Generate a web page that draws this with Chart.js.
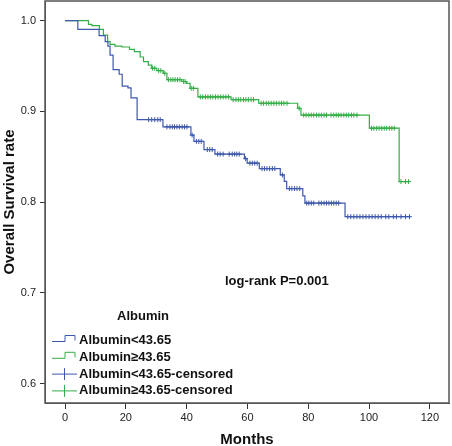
<!DOCTYPE html>
<html>
<head>
<meta charset="utf-8">
<script src="https://cdn.jsdelivr.net/npm/chart.js@4"></script>
<style>
html, body { margin: 0; padding: 0; background: #fff; }
</style>
</head>
<body>
<canvas id="km" width="452" height="446"></canvas>
<script>
// Kaplan-Meier steps (months, survival after the drop)
var lowTimes = [0, 4.2, 11.2, 13.2, 14.1, 14.8, 15.8, 17.8, 18.8, 20.7, 21.7, 23.7, 32.2, 41.4, 42.4, 45.7, 49.3, 59.0, 59.9, 63.9, 70.8, 72.1, 72.9, 78.2, 78.9, 92.1, 113.3];
var lowSurv  = [1.0, 0.9905, 0.9835, 0.977, 0.972, 0.962, 0.946, 0.941, 0.928, 0.926, 0.915, 0.891, 0.883, 0.874, 0.867, 0.858, 0.853, 0.848, 0.843, 0.837, 0.830, 0.823, 0.815, 0.807, 0.799, 0.784, 0.784];

var highTimes = [0, 7.7, 8.8, 11.3, 12.6, 14.0, 14.8, 16.4, 18.7, 21.2, 22.8, 24.7, 25.8, 27.4, 28.5, 30.2, 32.3, 33.5, 38.4, 40.0, 41.1, 43.7, 54.6, 63.7, 76.5, 77.6, 100.1, 109.9, 113.3];
var highSurv  = [1.0, 0.996, 0.9945, 0.9905, 0.984, 0.977, 0.974, 0.972, 0.971, 0.9685, 0.966, 0.960, 0.955, 0.951, 0.9476, 0.945, 0.942, 0.935, 0.933, 0.931, 0.9255, 0.916, 0.913, 0.909, 0.9035, 0.896, 0.8815, 0.8227, 0.8227];

// censored times (months)
var lowCens = [27.5, 28.5, 29.5, 30.5, 31.3, 33.5, 34.5, 35.3, 36, 36.8, 37.6, 38.5, 39.3, 40.1, 41.8, 43.2, 44, 44.8,
  46.8, 47.6, 48.4, 50.2, 51, 52, 54, 55, 55.8, 56.5, 57.3, 59.4, 60.8, 61.6, 62.4, 63.2, 64.8, 65.6, 66.4, 67.3, 68.2, 69,
  71.5, 73.8, 74.6, 75.5, 76.3, 77.2, 79.5, 80.2, 81, 81.8, 83.5, 84.3, 85.2, 86, 86.8, 87.6, 88.4, 89.2, 90,
  93, 94, 95, 96, 97, 98, 99, 100, 101, 102, 103, 104, 105.5, 106.5, 108, 109, 110.5, 112, 113.3];
var highCens = [28.8, 29.5, 30.8, 31.5, 32.8, 34, 34.8, 35.5, 36.2, 37, 37.8, 39, 39.5, 41.5, 42.2,
  44.5, 45.3, 46.2, 47, 47.8, 48.6, 49.5, 50.3, 51.2, 52, 52.9, 53.8, 55.3, 56.2, 57, 57.8, 58.7, 59.5, 60.3, 61.2, 62,
  64.5, 65.3, 66.2, 67, 67.8, 68.7, 69.5, 70.4, 71.2, 72, 73, 77, 78.5, 79.3, 80.2, 81, 81.8, 82.7, 83.5, 84.3, 85.2, 86,
  87.5, 88.4, 89.2, 90, 90.8, 91.7, 92.5, 93.3, 94.2, 95, 96, 100.8, 101.6, 102.5, 103.3, 104.2, 105, 105.8, 106.7, 107.5, 108.3,
  110.5, 112, 113];

var xTicks = [0, 20, 40, 60, 80, 100, 120];
var yTicks = [0.6, 0.7, 0.8, 0.9, 1.0];

var blue = "#3E58AC";
var green = "#34AE47";
var FONT = "'Liberation Sans', Arial, sans-serif";

function steps(times, surv) {
  return times.map(function (t, i) { return { x: t, y: surv[i] }; });
}
// value of the step curve at a censored time
function censPoints(cens, times, surv) {
  return cens.map(function (t) {
    var s = surv[0];
    for (var i = 0; i < times.length; i++) { if (times[i] <= t) s = surv[i]; }
    return { x: t, y: s };
  });
}
function noPad(s) {
  s.paddingTop = 0; s.paddingBottom = 0; s.paddingLeft = 0; s.paddingRight = 0;
}

var frame = {
  id: 'frame',
  afterDraw: function (chart) {
    var ctx = chart.ctx, a = chart.chartArea;
    ctx.save();
    ctx.strokeStyle = "#555";
    ctx.lineWidth = 1.5;
    ctx.strokeRect(a.left, a.top, a.right - a.left, a.bottom - a.top);

    ctx.fillStyle = "#111";
    ctx.font = "bold 15px " + FONT;
    ctx.textAlign = "center";
    ctx.textBaseline = "middle";
    ctx.fillText("Months", (a.left + a.right) / 2, 440);
    ctx.save();
    ctx.translate(10, (a.top + a.bottom) / 2);
    ctx.rotate(-Math.PI / 2);
    ctx.fillText("Overall Survival rate", 0, 0);
    ctx.restore();

    ctx.font = "bold 13px " + FONT;
    ctx.textAlign = "left";
    ctx.fillText("log-rank P=0.001", 225, 281);

    // legend
    ctx.textAlign = "center";
    ctx.fillText("Albumin", 143, 316);
    var labels = ["Albumin<43.65", "Albumin\u226543.65", "Albumin<43.65-censored", "Albumin\u226543.65-censored"];
    var cols = [blue, green, blue, green];
    ctx.textAlign = "left";
    for (var i = 0; i < 4; i++) {
      var y = 340.5 + i * 16.8;
      ctx.strokeStyle = cols[i];
      ctx.lineWidth = 1;
      ctx.beginPath();
      if (i < 2) {
        ctx.moveTo(52, y + 1); ctx.lineTo(65, y + 1); ctx.lineTo(65, y - 5);
        ctx.lineTo(75, y - 5); ctx.lineTo(75, y);
      } else {
        ctx.moveTo(52, y); ctx.lineTo(77, y);
        ctx.moveTo(64.5, y - 6); ctx.lineTo(64.5, y + 6);
      }
      ctx.stroke();
      ctx.fillStyle = "#111";
      ctx.fillText(labels[i], 79, y);
    }
    ctx.restore();
  }
};

new Chart(document.getElementById("km").getContext("2d"), {
  type: 'line',
  data: {
    datasets: [
      {
        label: 'Albumin<43.65',
        data: steps(lowTimes, lowSurv),
        stepped: true,
        borderColor: blue,
        borderWidth: 1.2,
        pointRadius: 0,
        fill: false
      },
      {
        label: 'Albumin\u226543.65',
        data: steps(highTimes, highSurv),
        stepped: true,
        borderColor: green,
        borderWidth: 1.2,
        pointRadius: 0,
        fill: false
      },
      {
        label: 'Albumin<43.65-censored',
        data: censPoints(lowCens, lowTimes, lowSurv),
        showLine: false,
        pointStyle: 'cross',
        pointRadius: 2.5,
        pointBorderWidth: 1,
        borderColor: blue,
        backgroundColor: blue
      },
      {
        label: 'Albumin\u226543.65-censored',
        data: censPoints(highCens, highTimes, highSurv),
        showLine: false,
        pointStyle: 'cross',
        pointRadius: 2.5,
        pointBorderWidth: 1,
        borderColor: green,
        backgroundColor: green
      }
    ]
  },
  options: {
    responsive: false,
    animation: false,
    layout: { autoPadding: false, padding: { top: 1, right: 3, left: 0, bottom: 0 } },
    plugins: { legend: { display: false }, tooltip: { enabled: false } },
    scales: {
      x: {
        type: 'linear',
        min: -6.6,
        max: 126.3,
        afterBuildTicks: function (s) { s.ticks = xTicks.map(function (v) { return { value: v }; }); },
        afterFit: function (s) { s.height = 43; noPad(s); },
        ticks: { font: { family: FONT, size: 11 }, color: "#222", padding: 2, maxRotation: 0 },
        grid: { drawOnChartArea: false, drawTicks: true, tickLength: 6, color: "#333" },
        border: { display: true, color: "#555" }
      },
      y: {
        type: 'linear',
        min: 0.5787,
        max: 1.0217,
        afterBuildTicks: function (s) { s.ticks = yTicks.map(function (v) { return { value: v }; }); },
        afterFit: function (s) { s.width = 45; noPad(s); },
        ticks: {
          font: { family: FONT, size: 11 }, color: "#222", padding: 4,
          callback: function (v) { return v.toFixed(1); }
        },
        grid: { drawOnChartArea: false, drawTicks: true, tickLength: 5, color: "#333" },
        border: { display: true, color: "#555" }
      }
    }
  },
  plugins: [frame]
});
</script>
</body>
</html>
